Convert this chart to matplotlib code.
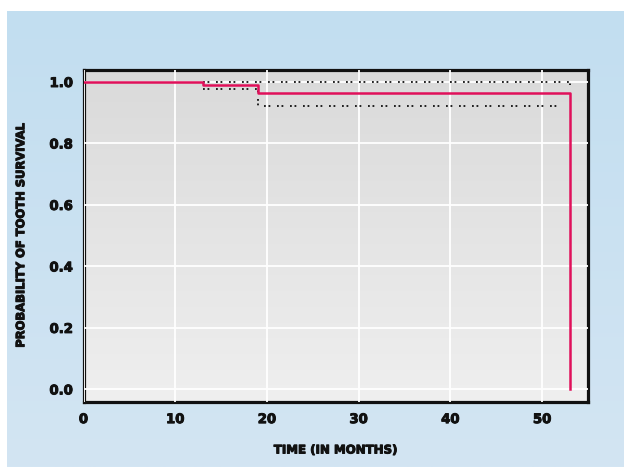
import matplotlib
matplotlib.use("Agg")
import matplotlib.pyplot as plt
import matplotlib.patheffects as pe
import numpy as np
from matplotlib.patches import Rectangle

# ---- data ----
km_time = [0, 13, 19, 53]
km_surv = [1.0, 0.991, 0.964, 0.0]

upper_time = [13, 53]
upper_ci = [1.0, 0.991]

lower_time = [13, 19, 52.3]
lower_ci = [0.977, 0.923, 0.923]

x_ticks = [0, 10, 20, 30, 40, 50]
y_ticks = [0.0, 0.2, 0.4, 0.6, 0.8, 1.0]
y_ticklabels = ["0.0", "0.2", "0.4", "0.6", "0.8", "1.0"]

W, H = 624, 467
fig = plt.figure(figsize=(W / 100, H / 100), dpi=100)
fig.patch.set_facecolor("white")

# blue gradient background panel
bg = fig.add_axes([7 / W, 0, 1 - 7 / W, 1 - 11 / H], zorder=-10)
grad = np.linspace(0, 1, 256)[:, None]
top_c = np.array([194, 222, 240]) / 255
bot_c = np.array([211, 229, 243]) / 255
img = top_c[None, None, :] * (1 - grad[:, :, None]) + bot_c[None, None, :] * grad[:, :, None]
bg.imshow(img, aspect="auto", extent=[0, 1, 0, 1])
bg.set_axis_off()

left, right, top, bottom = 83.5 / W, 588 / W, 1 - 70 / H, 1 - 402 / H
# frame shadow
fig.patches.append(Rectangle((left - 1 / W, bottom - 1.5 / H), right - left + 3 / W, top - bottom + 3 / H,
                             transform=fig.transFigure, facecolor="#8da2b2", edgecolor="none", zorder=-5))

ax = fig.add_axes([left, bottom, right - left, top - bottom])
xlim = (0, 55)
ylim = (-0.041, 1.039)
ax.set_xlim(*xlim)
ax.set_ylim(*ylim)

pt = np.array([218, 218, 218]) / 255
pb = np.array([239, 239, 239]) / 255
pimg = pt[None, None, :] * (1 - grad[:, :, None]) + pb[None, None, :] * grad[:, :, None]
ax.imshow(pimg, aspect="auto", extent=[xlim[0], xlim[1], ylim[0], ylim[1]], zorder=0)

heavy = [pe.withStroke(linewidth=0.7, foreground="#111111")]

ax.set_xticks(x_ticks)
ax.set_yticks(y_ticks)
ax.set_yticklabels(y_ticklabels)
ax.grid(True, color="white", linewidth=1.3, zorder=1)
ax.set_axisbelow(False)
ax.tick_params(axis="x", length=0, pad=8, labelsize=9.5)
ax.tick_params(axis="y", length=0, pad=7.5, labelsize=9.5)
for lab in ax.get_xticklabels() + ax.get_yticklabels():
    lab.set_fontweight("bold")
    lab.set_color("#111111")
    lab.set_path_effects(heavy)

for s in ax.spines.values():
    s.set_linewidth(2.3)
    s.set_color("#111111")

dot_style = dict(color="#111111", linewidth=1.3, linestyle=(0, (1, 1.5, 1, 3.7)),
                 dash_capstyle="butt", zorder=3)
ax.step(upper_time, upper_ci, where="post", **dot_style)
ax.step(lower_time, lower_ci, where="post", **dot_style)
ax.step(km_time, km_surv, where="post", color="#e0105a", linewidth=1.8, zorder=4)

xl = ax.set_xlabel("TIME (IN MONTHS)", fontsize=8.5, fontweight="bold", color="#111111", labelpad=12.5)
yl = ax.set_ylabel("PROBABILITY OF TOOTH SURVIVAL", fontsize=8.3, fontweight="bold", color="#111111", labelpad=16)
xl.set_path_effects(heavy)
yl.set_path_effects(heavy)

fig.savefig("out.png", dpi=100)
